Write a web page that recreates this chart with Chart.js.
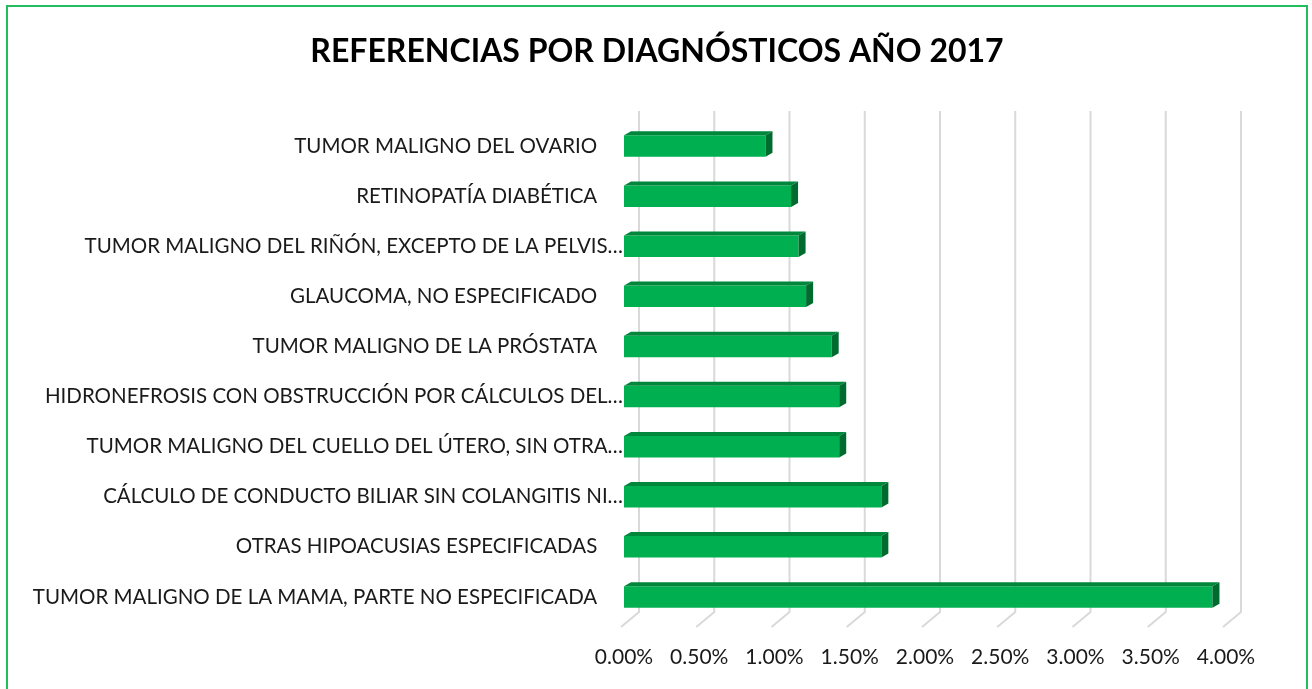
<!DOCTYPE html>
<html>
<head>
<meta charset="utf-8">
<script src="https://cdn.jsdelivr.net/npm/chart.js@4/dist/chart.umd.min.js"></script>
<style>
  html, body { margin: 0; padding: 0; background: #fff; }
  #wrap { width: 1312px; height: 689px; position: relative; }
</style>
</head>
<body>
<div id="wrap"><canvas id="grafico" width="1312" height="689"></canvas></div>
<script>
// ==== Datos ====
const diagnosticos = [
  "TUMOR MALIGNO DEL OVARIO",
  "RETINOPATÍA DIABÉTICA",
  "TUMOR MALIGNO DEL RIÑÓN, EXCEPTO DE LA PELVIS…",
  "GLAUCOMA, NO ESPECIFICADO",
  "TUMOR MALIGNO DE LA PRÓSTATA",
  "HIDRONEFROSIS CON OBSTRUCCIÓN POR CÁLCULOS DEL…",
  "TUMOR MALIGNO DEL CUELLO DEL ÚTERO, SIN OTRA…",
  "CÁLCULO DE CONDUCTO BILIAR SIN COLANGITIS NI…",
  "OTRAS HIPOACUSIAS ESPECIFICADAS",
  "TUMOR MALIGNO DE LA MAMA, PARTE NO ESPECIFICADA"
];
const porcentajes = [0.94, 1.11, 1.16, 1.21, 1.38, 1.43, 1.43, 1.71, 1.71, 3.91];
const ticksX = [0, 0.5, 1, 1.5, 2, 2.5, 3, 3.5, 4];
const titulo = "REFERENCIAS POR DIAGNÓSTICOS AÑO 2017";

const verde = "#00b050";
const verdeTapa = "#00873b";
const verdeLado = "#006b2e";
const gris = "#d9d9d9";
const fuente = "Lato, 'Open Sans', sans-serif";

// profundidad de las barras 3D y del fondo
const prof = { dx: 7, dy: -4 };
const fondo = { dx: 15, dy: -10 };
const piso = { dx: -3, dy: 5 };

Chart.defaults.font.family = fuente;
Chart.defaults.color = "#1a1a1a";

// marco verde y título
const marco = {
  id: 'marco',
  beforeDraw(chart) {
    const ctx = chart.ctx;
    ctx.save();
    ctx.strokeStyle = "#22bd5c";
    ctx.lineWidth = 2;
    ctx.strokeRect(7, 6, 1300, 700);
    ctx.fillStyle = "#000";
    ctx.font = "bold 32px " + fuente;
    ctx.textAlign = "center";
    ctx.textBaseline = "alphabetic";
    ctx.fillText(titulo, 657, 62);
    ctx.restore();
  }
};

// líneas de división: pared del fondo + tramo inclinado del piso
const rejilla3d = {
  id: 'rejilla3d',
  beforeDatasetsDraw(chart) {
    const ctx = chart.ctx;
    const x = chart.scales.x;
    const area = chart.chartArea;
    ctx.save();
    ctx.strokeStyle = gris;
    ctx.lineWidth = 2;
    ticksX.forEach(v => {
      const px = x.getPixelForValue(v);
      ctx.beginPath();
      ctx.moveTo(px + fondo.dx, area.top + fondo.dy);
      ctx.lineTo(px + fondo.dx, area.bottom + fondo.dy);
      ctx.lineTo(px + piso.dx, area.bottom + piso.dy);
      ctx.stroke();
    });
    ctx.restore();
  }
};

// caras superior y lateral de cada barra
const barras3d = {
  id: 'barras3d',
  afterDatasetsDraw(chart) {
    const ctx = chart.ctx;
    const meta = chart.getDatasetMeta(0);
    ctx.save();
    meta.data.forEach(bar => {
      const p = bar.getProps(['x', 'y', 'base', 'height'], true);
      const top = p.y - p.height / 2;
      const bottom = p.y + p.height / 2;
      ctx.fillStyle = verdeTapa;
      ctx.beginPath();
      ctx.moveTo(p.base, top);
      ctx.lineTo(p.base + prof.dx, top + prof.dy);
      ctx.lineTo(p.x + prof.dx, top + prof.dy);
      ctx.lineTo(p.x, top);
      ctx.closePath();
      ctx.fill();
      ctx.fillStyle = verdeLado;
      ctx.beginPath();
      ctx.moveTo(p.x, top);
      ctx.lineTo(p.x + prof.dx, top + prof.dy);
      ctx.lineTo(p.x + prof.dx, bottom + prof.dy);
      ctx.lineTo(p.x, bottom);
      ctx.closePath();
      ctx.fill();
    });
    ctx.restore();
  }
};

new Chart(document.getElementById('grafico'), {
  type: 'bar',
  data: {
    labels: diagnosticos,
    datasets: [{
      data: porcentajes,
      backgroundColor: verde,
      borderWidth: 0,
      barPercentage: 0.43,
      categoryPercentage: 1
    }]
  },
  options: {
    indexAxis: 'y',
    responsive: false,
    animation: false,
    layout: { padding: { top: 121, left: 0, right: 86, bottom: 19 } },
    plugins: {
      legend: { display: false },
      tooltip: { enabled: false },
      title: { display: false }
    },
    scales: {
      x: {
        min: 0,
        max: 4,
        afterBuildTicks(scale) { scale.ticks = ticksX.map(v => ({ value: v })); },
        afterFit(scale) { scale.height = 48; },
        grid: { display: false, drawTicks: false },
        border: { display: false },
        ticks: {
          padding: 23,
          maxRotation: 0,
          font: { size: 21 },
          callback: v => v.toFixed(2) + "%"
        }
      },
      y: {
        afterFit(scale) { scale.width = 624; },
        grid: { display: false, drawTicks: false },
        border: { display: false },
        ticks: {
          padding: 1,
          font: { size: 20.5 },
          callback(v) {
            const t = this.getLabelForValue(v);
            return t.endsWith("…") ? t : t + "\u2002\u2002 ";
          }
        }
      }
    }
  },
  plugins: [marco, rejilla3d, barras3d]
});
</script>
</body>
</html>
